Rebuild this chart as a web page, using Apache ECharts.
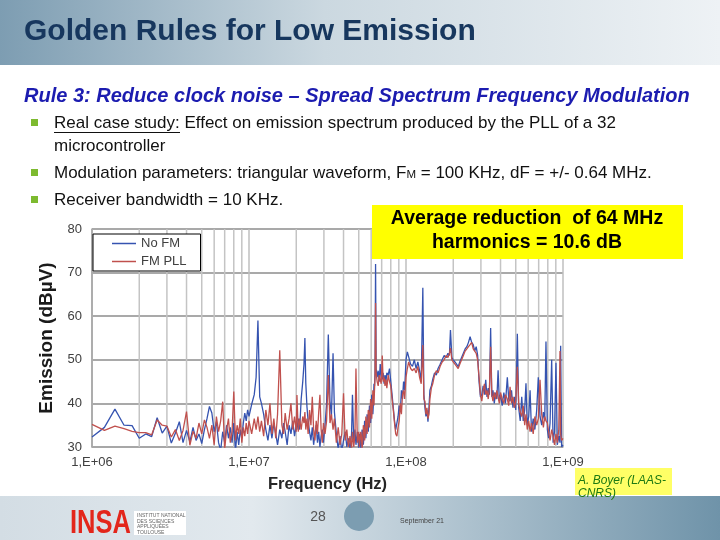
<!DOCTYPE html>
<html>
<head>
<meta charset="utf-8">
<script src="https://cdn.jsdelivr.net/npm/echarts@6/dist/echarts.min.js"></script>
<style>
  html, body { margin: 0; padding: 0; background: #fff; }
  #chart { width: 720px; height: 540px; }
</style>
</head>
<body>
<div id="chart"></div>
<script>
const freqMHz = [
  1.0, 1.2, 1.4, 1.6, 1.8, 2.0, 2.2, 2.4, 2.6, 2.8, 3.0, 3.2, 3.4, 3.6, 3.8, 4.0, 4.2, 4.4,
  4.6, 4.8, 5.0, 5.2, 5.4, 5.6, 5.8, 6.0, 6.2, 6.4, 6.6, 6.8, 7.0, 7.2, 7.4, 7.6, 7.8, 8.0, 8.2, 8.4, 8.6, 8.8, 9.0, 9.2, 9.4, 9.6, 9.8, 10.0,
  10.4, 10.8, 11.1, 11.4, 11.7, 12.0, 12.4, 12.8, 13.2, 13.6, 14.0, 14.4, 14.8, 15.2, 15.7, 16.2, 16.6, 17.0, 17.5, 18.0, 18.5, 19.0, 19.5, 20.0,
  20.2, 20.6, 21.0, 21.5, 22.0, 22.4, 22.7, 23.0, 23.4, 23.8, 24.3, 24.8, 25.3, 25.8, 26.3, 26.8, 27.3, 27.8, 28.3, 28.8, 29.3, 29.8,
  30.5, 31.2, 32.0, 32.8, 33.5, 34.3, 35.0, 36.0, 37.0, 38.0, 39.0, 40.0, 41.0, 42.0, 43.0, 44.0, 45.0, 45.6, 46.5, 47.3, 48.0, 49.0,
  50.0, 50.5, 51.0, 51.5, 52.0, 52.5, 53.0, 53.5, 54.0, 54.5, 55.0, 55.5, 56.0, 56.5, 57.0, 57.5, 58.0, 58.5, 59.0, 59.5,
  60.0, 60.5, 61.0, 61.5, 62.0, 62.5, 63.0, 63.5, 64.0, 64.5,
  65.5, 66.5, 67.5, 68.5, 69.5, 70.6, 71.5, 72.5, 73.5, 74.5, 75.5, 77.0, 78.5, 80.0, 81.5, 83.0, 84.5, 86.0, 87.5, 89.0, 90.5, 92.0, 93.5, 95.0, 96.5, 98.0,
  100, 102, 104, 107, 110, 113, 116, 119, 122, 125, 128, 130, 132, 134, 136, 138, 140, 142, 145, 148, 152, 156, 160, 165, 170, 175, 180, 185, 189, 192, 196, 200,
  205, 210, 215, 220, 226, 232, 238, 244, 250, 256, 262, 268, 274, 280, 286, 292, 298, 304, 310, 316, 322, 328, 334, 340, 346,
  352, 358, 365, 372, 379, 386, 393, 400, 410, 420, 430, 442, 451, 460, 470, 480, 490, 500, 512, 522, 534, 546, 558, 570, 581,
  592, 605, 617, 630, 646, 662, 680, 696, 714, 732, 750, 765, 779, 795, 810, 827, 847, 865, 883, 902, 920, 940, 957, 966, 980, 1000
];

// emission without frequency modulation (dBuV)
const noFM = [
  32.3, 34.5, 38.7, 35.0, 34.9, 32.0, 33.0, 32.4, 36.7, 33.2, 34.8, 30.9, 33.2, 35.8, 31.0, 33.8, 31.2, 34.5,
  31.5, 33.0, 30.8, 34.0, 36.5, 39.3, 37.8, 33.5, 35.8, 31.0, 29.2, 33.5, 31.0, 35.0, 32.0, 34.5, 31.0, 35.5, 29.0, 33.5, 30.5, 34.0, 32.0, 35.5, 37.8, 36.0, 38.5, 37.0,
  39.8, 42.0, 46.0, 59.0, 41.5, 40.0, 37.5, 34.0, 31.5, 35.0, 32.0, 35.5, 33.0, 30.5, 34.0, 32.0, 35.5, 33.5, 30.5, 35.0, 33.0, 36.0, 32.5, 35.0,
  34.0, 36.5, 34.0, 41.0, 45.0, 49.0, 55.0, 44.7, 39.2, 36.0, 33.5, 31.5, 34.5, 30.5, 33.0, 35.0, 31.0, 33.5, 30.0, 32.5, 34.0, 31.0,
  35.0, 40.0, 55.8, 40.5, 37.0, 51.5, 38.0, 33.0, 29.5, 32.5, 29.0, 31.5, 33.5, 30.0, 32.0, 29.5, 33.0, 42.0, 31.0, 34.0, 30.5, 33.5,
  29.5, 33.0, 32.0, 29.5, 31.0, 34.0, 33.5, 30.5, 32.5, 36.0, 35.5, 32.0, 34.0, 37.5, 37.0, 33.5, 36.0, 39.5, 39.0, 35.5,
  38.0, 42.0, 41.5, 37.5, 40.0, 44.5, 44.0, 47.0, 72.0, 48.0,
  46.0, 47.5, 45.0, 49.0, 46.0, 45.5, 47.0, 44.5, 46.5, 45.0, 47.0, 46.5, 48.0, 45.0, 42.0, 39.0, 36.0, 34.0, 35.5, 37.0, 39.5, 38.0, 43.0, 41.0, 45.0, 43.0,
  50.0, 51.8, 52.0, 49.0, 48.5, 50.0, 48.0, 49.5, 47.5, 45.0, 66.5, 42.0, 39.0, 37.0, 38.5, 35.8, 39.0, 43.0, 44.0, 45.5, 47.0, 46.5, 48.0, 49.0, 50.0, 51.0, 50.5, 51.5, 51.0, 56.8, 50.5, 50.0,
  49.5, 49.0, 48.4, 49.5, 50.5, 51.5, 52.5, 53.0, 54.0, 55.3, 54.0, 53.5, 52.0, 53.0, 51.0, 45.0, 41.5, 42.0, 44.0, 42.0, 45.4, 41.5, 43.5, 42.0, 57.3,
  41.5, 43.0, 40.0, 42.5, 41.0, 47.6, 40.5, 42.0, 39.5, 42.5, 40.0, 46.0, 41.0, 40.5, 43.0, 39.0, 41.5, 38.5, 56.0, 39.0, 36.0, 41.5, 36.0, 38.5, 44.6,
  35.0, 37.0, 43.0, 33.5, 36.5, 34.0, 38.5, 46.0, 37.0, 35.0, 38.0, 36.0, 54.2, 34.0, 32.0, 35.5, 50.0, 31.0, 33.5, 49.3, 30.5, 32.5, 31.0, 53.2, 30.0, 30.5
];

// emission with spread spectrum on the PLL (dBuV)
const fmPLL = [
  35.2, 33.8, 34.8, 34.2, 33.6, 33.3, 33.3, 32.8, 36.2, 35.0, 34.8, 32.3, 34.0, 31.5, 33.8, 38.1, 30.4, 33.6,
  32.0, 35.5, 33.0, 36.2, 34.5, 32.0, 35.0, 30.5, 37.0, 33.5, 36.0, 40.4, 29.5, 34.0, 36.5, 31.0, 33.5, 42.7, 31.5, 35.0, 33.0, 36.5, 31.0, 34.5, 32.5, 35.5, 33.0, 36.0,
  33.0, 36.5, 34.0, 37.0, 33.5, 36.0, 32.5, 38.5, 35.0, 40.0, 33.0, 36.5, 32.0, 37.5, 52.2, 35.0, 33.0, 37.8, 34.0, 36.5, 40.0, 34.0, 37.0, 33.5,
  41.9, 33.5, 36.5, 34.0, 37.0, 35.5, 38.0, 34.0, 36.5, 33.0, 38.5, 35.0, 41.5, 34.0, 31.5, 36.0, 33.0, 38.0, 42.0, 34.0, 31.0, 35.5,
  33.0, 36.0, 46.5, 35.5, 37.5, 34.0, 36.5, 31.0, 34.5, 30.5, 33.0, 42.3, 31.5, 34.0, 30.0, 32.5, 29.5, 33.5, 30.0, 33.0, 48.0, 31.0,
  33.5, 30.0, 30.0, 33.5, 32.5, 29.5, 31.0, 35.0, 34.5, 31.5, 33.0, 37.0, 36.0, 33.0, 35.0, 38.5, 38.0, 34.5, 37.0, 41.0,
  40.0, 36.5, 39.0, 43.0, 42.5, 39.5, 43.0, 46.0, 63.0, 47.0,
  45.0, 44.0, 46.5, 45.5, 44.5, 51.0, 45.0, 46.0, 44.0, 45.5, 43.5, 46.5, 45.0, 44.0, 41.0, 38.5, 35.5, 33.0, 32.5, 34.5, 36.0, 40.0, 37.5, 42.0, 43.0, 41.0,
  46.0, 48.0, 49.5, 48.0, 47.5, 48.0, 47.0, 48.5, 46.0, 44.5, 53.4, 41.0, 40.5, 37.5, 39.0, 36.5, 37.5, 41.0, 43.5, 44.5, 46.5, 47.5, 47.0, 48.5, 49.5, 50.0, 51.0, 50.5, 51.5, 52.7, 50.0, 49.5,
  49.0, 48.5, 48.0, 49.0, 50.0, 51.0, 52.0, 52.5, 53.0, 53.5, 54.0, 52.5, 52.5, 51.5, 50.0, 46.0, 42.0, 40.5, 43.0, 44.5, 42.0, 43.0, 41.0, 43.5, 53.0,
  42.0, 40.5, 42.5, 41.0, 43.0, 41.5, 40.0, 42.5, 41.0, 40.0, 42.0, 41.0, 39.5, 43.8, 40.0, 41.5, 39.0, 40.5, 48.4, 40.0, 38.0, 37.0, 39.5, 35.0, 37.5,
  34.0, 36.0, 33.5, 35.5, 33.0, 37.0, 35.0, 36.5, 45.4, 37.5, 34.5, 37.0, 36.0, 35.5, 33.5, 31.5, 34.0, 32.5, 30.5, 33.0, 31.0, 34.0, 52.0, 33.0, 31.5, 32.0
];

const seriesNames = ['No FM', 'FM PLL'];
const xTickLabels = ['1,E+06', '1,E+07', '1,E+08', '1,E+09'];

// minor log gridlines (2..9 x each decade)
const minorGrid = [];
[1e6, 1e7, 1e8].forEach(d => {
  for (let k = 2; k <= 9; k++) minorGrid.push([k * d]);
});

const FONT = "'Liberation Sans', Arial, sans-serif";
const chart = echarts.init(document.getElementById('chart'));

const option = {
  backgroundColor: '#ffffff',
  animation: false,
  textStyle: { fontFamily: FONT },
  grid: { left: 92, right: 157, top: 229, bottom: 93 },
  legend: {
    data: seriesNames,
    orient: 'vertical',
    left: 93,
    top: 234,
    icon: 'rect',
    padding: [3, 14, 3, 19],
    itemWidth: 24,
    itemHeight: 1.5,
    itemGap: 5,
    backgroundColor: '#ffffff',
    borderColor: '#000000',
    borderWidth: 1,
    textStyle: { color: '#404040', fontSize: 13, fontFamily: FONT }
  },
  xAxis: {
    type: 'log',
    logBase: 10,
    min: 1e6,
    max: 1e9,
    name: 'Frequency (Hz)',
    nameLocation: 'middle',
    nameGap: 29,
    nameTextStyle: { fontSize: 16.5, fontWeight: 'bold', color: '#262626', fontFamily: FONT },
    axisLine: { lineStyle: { color: '#a6a6a6', width: 1.5 } },
    axisTick: { show: false },
    axisLabel: {
      color: '#404040',
      fontSize: 13,
      margin: 9,
      formatter: v => xTickLabels[Math.round(Math.log10(v)) - 6]
    },
    splitLine: { show: true, lineStyle: { color: '#bfbfbf', width: 1.5 } }
  },
  yAxis: {
    type: 'value',
    min: 30,
    max: 80,
    interval: 10,
    name: 'Emission (dBµV)',
    nameLocation: 'middle',
    nameRotate: 90,
    nameGap: 35,
    nameTextStyle: { fontSize: 19, fontWeight: 'bold', color: '#1a1a1a', fontFamily: FONT },
    axisLine: { show: true, lineStyle: { color: '#a6a6a6', width: 1.5 } },
    axisTick: { show: false },
    axisLabel: { color: '#404040', fontSize: 13, margin: 10 },
    splitLine: { lineStyle: { color: '#a9a9a9', width: 2 } }
  },
  series: [
    {
      type: 'custom',
      name: 'minor',
      silent: true,
      z: 1,
      data: minorGrid,
      renderItem: (params, api) => {
        const a = api.coord([api.value(0), 80]);
        const b = api.coord([api.value(0), 30]);
        return {
          type: 'line',
          shape: { x1: a[0], y1: a[1], x2: b[0], y2: b[1] },
          style: { stroke: '#c4c4c4', lineWidth: 1.5 }
        };
      }
    },
    {
      name: seriesNames[0],
      type: 'line',
      symbol: 'none',
      z: 3,
      lineStyle: { color: '#3553b0', width: 1.3 },
      itemStyle: { color: '#3553b0' },
      data: freqMHz.map((f, i) => [f * 1e6, noFM[i]])
    },
    {
      name: seriesNames[1],
      type: 'line',
      symbol: 'none',
      z: 4,
      lineStyle: { color: '#c0504d', width: 1.3 },
      itemStyle: { color: '#c0504d' },
      data: freqMHz.map((f, i) => [f * 1e6, fmPLL[i]])
    }
  ],
  graphic: {
    elements: [
      // header band
      {
        type: 'rect', x: 0, y: 0, z: -10, silent: true,
        shape: { width: 720, height: 65 },
        style: {
          fill: {
            type: 'linear', x: 0, y: 0, x2: 1, y2: 0,
            colorStops: [
              { offset: 0, color: '#7d9db2' },
              { offset: 0.45, color: '#cbd8e0' },
              { offset: 1, color: '#eef2f5' }
            ]
          }
        }
      },
      {
        type: 'text', x: 24, y: 32,
        style: { text: 'Golden Rules for Low Emission', fill: '#17375e', font: 'bold 30px ' + FONT, verticalAlign: 'middle' }
      },
      {
        type: 'text', x: 24, y: 96,
        style: { text: 'Rule 3: Reduce clock noise – Spread Spectrum Frequency Modulation', fill: '#1c1cb0', font: 'italic bold 20px ' + FONT, verticalAlign: 'middle' }
      },
      // bullets
      { type: 'rect', x: 31, y: 119, shape: { width: 7, height: 7 }, style: { fill: '#7dba2f' } },
      { type: 'rect', x: 31, y: 169, shape: { width: 7, height: 7 }, style: { fill: '#7dba2f' } },
      { type: 'rect', x: 31, y: 196, shape: { width: 7, height: 7 }, style: { fill: '#7dba2f' } },
      {
        type: 'text', x: 54, y: 123,
        style: { text: 'Real case study: Effect on emission spectrum produced by the PLL of a 32', fill: '#111', font: '17px ' + FONT, verticalAlign: 'middle' }
      },
      { type: 'line', shape: { x1: 54, y1: 132.5, x2: 180, y2: 132.5 }, style: { stroke: '#111', lineWidth: 1 } },
      {
        type: 'text', x: 54, y: 146,
        style: { text: 'microcontroller', fill: '#111', font: '17px ' + FONT, verticalAlign: 'middle' }
      },
      {
        type: 'text', x: 54, y: 173,
        style: {
          text: 'Modulation parameters: triangular waveform, F{s|M} = 100 KHz, dF = +/- 0.64 MHz.',
          fill: '#111', font: '17px ' + FONT, verticalAlign: 'middle',
          rich: { s: { fontSize: 11.5, fontFamily: FONT, fill: '#111', padding: [4, 0, 0, 0] } }
        }
      },
      {
        type: 'text', x: 54, y: 200,
        style: { text: 'Receiver bandwidth = 10 KHz.', fill: '#111', font: '17px ' + FONT, verticalAlign: 'middle' }
      },
      // annotation box
      { type: 'rect', x: 372, y: 205, z: 10, shape: { width: 311, height: 54 }, style: { fill: '#ffff00' } },
      {
        type: 'text', x: 527, y: 231, z: 11,
        style: {
          text: 'Average reduction  of 64 MHz\nharmonics = 10.6 dB',
          fill: '#000', font: 'bold 19.5px ' + FONT, align: 'center', verticalAlign: 'middle', lineHeight: 24
        }
      },
      // author
      { type: 'rect', x: 575, y: 468, z: 10, shape: { width: 97, height: 27 }, style: { fill: '#ffff66' } },
      {
        type: 'text', x: 578, y: 474, z: 11,
        style: { text: 'A. Boyer (LAAS-\nCNRS)', fill: '#1d7a12', font: 'italic 12px ' + FONT, lineHeight: 13 }
      },
      // footer band
      {
        type: 'rect', x: 0, y: 496, z: -10, silent: true,
        shape: { width: 720, height: 44 },
        style: {
          fill: {
            type: 'linear', x: 0, y: 0, x2: 1, y2: 0,
            colorStops: [
              { offset: 0, color: '#d3dde4' },
              { offset: 0.35, color: '#e2e9ee' },
              { offset: 1, color: '#6f93a9' }
            ]
          }
        }
      },
      {
        type: 'text', x: 70, y: 524, scaleX: 0.75,
        style: { text: 'INSA', fill: '#e3261b', font: 'bold 34px ' + FONT, verticalAlign: 'middle' }
      },
      { type: 'rect', x: 134, y: 511, shape: { width: 52, height: 24 }, style: { fill: '#ffffff' } },
      {
        type: 'text', x: 137, y: 513,
        style: { text: 'INSTITUT NATIONAL\nDES SCIENCES\nAPPLIQUÉES\nTOULOUSE', fill: '#666', font: '5px ' + FONT, lineHeight: 5.5 }
      },
      {
        type: 'text', x: 318, y: 517,
        style: { text: '28', fill: '#555', font: '14px ' + FONT, align: 'center', verticalAlign: 'middle' }
      },
      { type: 'circle', shape: { cx: 359, cy: 516, r: 15 }, style: { fill: '#7c9db1' } },
      {
        type: 'text', x: 400, y: 521,
        style: { text: 'September 21', fill: '#444', font: '7px ' + FONT, verticalAlign: 'middle' }
      }
    ]
  }
};

chart.setOption(option);
</script>
</body>
</html>
